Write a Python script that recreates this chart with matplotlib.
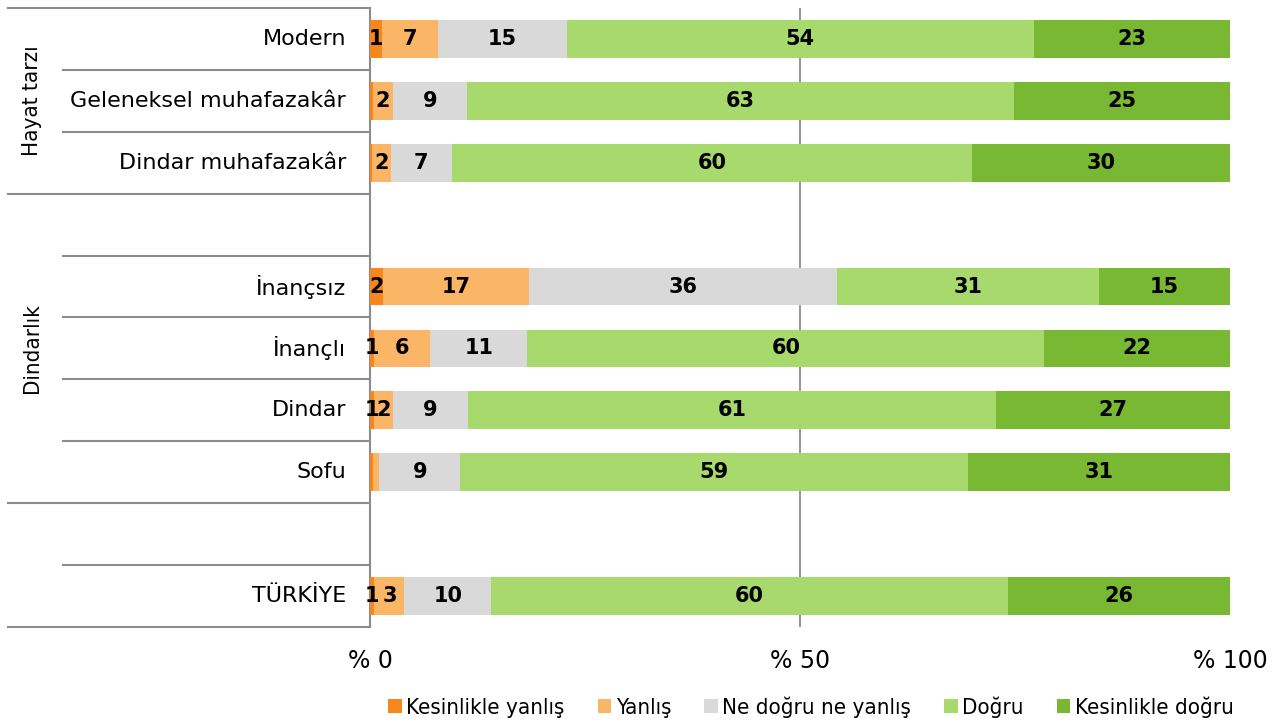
import matplotlib
matplotlib.use("Agg")
import matplotlib.pyplot as plt
from matplotlib.patches import Patch
from matplotlib.font_manager import FontProperties

plt.rcParams["font.family"] = ["DejaVu Sans"]

# ---------- data --------------------------------------------------------------
categories = ["Modern", "Geleneksel muhafazakâr", "Dindar muhafazakâr", "",
              "İnançsız", "İnançlı", "Dindar", "Sofu", "", "TÜRKİYE"]
series_names = ["Kesinlikle yanlış", "Yanlış", "Ne doğru ne yanlış", "Doğru",
                "Kesinlikle doğru"]

kesinlikle_yanlis = [1.4, 0.3, 0.2, None, 1.5, 0.5, 0.5, 0.3, None, 0.5]
yanlis            = [6.5, 2.4, 2.2, None, 17.0, 6.5, 2.2, 0.8, None, 3.5]
ne_dogru          = [15.0, 8.6, 7.1, None, 35.8, 11.3, 8.7, 9.4, None, 10.1]
dogru             = [54.3, 63.6, 60.5, None, 30.5, 60.1, 61.4, 59.0, None, 60.1]
kesinlikle_dogru  = [22.8, 25.1, 30.0, None, 15.2, 21.6, 27.2, 30.5, None, 25.8]

# printed data labels (None = no label shown)
lab_kes_yanlis = ["1", None, None, None, "2", "1", "1", None, None, "1"]
lab_yanlis     = ["7", "2", "2", None, "17", "6", "2", None, None, "3"]
lab_ne         = ["15", "9", "7", None, "36", "11", "9", "9", None, "10"]
lab_dogru      = ["54", "63", "60", None, "31", "60", "61", "59", None, "60"]
lab_kes_dogru  = ["23", "25", "30", None, "15", "22", "27", "31", None, "26"]

groups = [("Hayat tarzı", 0, 2), ("Dindarlık", 3, 7)]
x_ticks = [0, 50, 100]
x_ticklabels = ["% 0", "% 50", "% 100"]

COLORS = ["#F7861C", "#FAB567", "#D9D9D9", "#A8D96C", "#78B833"]
GRID = "#8C8C8C"
COND = FontProperties(family="DejaVu Sans", stretch="condensed", size=16)

# ---------- figure ------------------------------------------------------------
fig = plt.figure(figsize=(12.87, 7.22), dpi=100)
ax = fig.add_axes([370 / 1287, 1 - 627 / 722, 860 / 1287, 619 / 722])

series = [kesinlikle_yanlis, yanlis, ne_dogru, dogru, kesinlikle_dogru]
labels = [lab_kes_yanlis, lab_yanlis, lab_ne, lab_dogru, lab_kes_dogru]

left = [0.0] * len(categories)
for vals, labs, color in zip(series, labels, COLORS):
    for i, v in enumerate(vals):
        if v is None:
            continue
        ax.barh(i, v, left=left[i], height=0.61, color=color, zorder=3)
        if labs[i] is not None:
            ax.text(left[i] + v / 2, i, labs[i], ha="center", va="center",
                    fontsize=15, fontweight="bold", color="black", zorder=5)
        left[i] += v

ax.set_xlim(0, 100)
ax.set_ylim(len(categories) - 0.5, -0.5)
ax.axvline(50, color=GRID, lw=1.3, zorder=1)

for s in ["top", "right", "bottom"]:
    ax.spines[s].set_visible(False)
ax.spines["left"].set_color(GRID)
ax.spines["left"].set_linewidth(1.5)

ax.set_yticks([])
ax.set_xticks(x_ticks)
ax.set_xticklabels(x_ticklabels, fontsize=17)
ax.tick_params(axis="x", length=0, pad=16)

# category labels
ytf = ax.get_yaxis_transform()
for i, c in enumerate(categories):
    if c:
        ax.text(-0.028, i, c, transform=ytf, ha="right", va="center",
                fontsize=16)

# separator lines on the left
full = [-0.5, 2.5, 7.5, 9.5]
for b in [k - 0.5 for k in range(len(categories) + 1)]:
    x0 = -0.421 if b in full else -0.357
    ax.plot([x0, 0], [b, b], transform=ytf, color=GRID, lw=1.5,
            clip_on=False, zorder=0)

# group labels
for name, a, b in groups:
    ax.text(-0.393, (a + b) / 2, name, transform=ytf, rotation=90,
            ha="center", va="center", fontproperties=COND)

# legend
handles = [Patch(facecolor=c, edgecolor="none", label=n)
           for c, n in zip(COLORS, series_names)]
fig.legend(handles=handles, loc="center", bbox_to_anchor=(811 / 1287, 1 - 707 / 722),
           ncol=5, frameon=False, handlelength=0.6, handleheight=0.6,
           handletextpad=0.2, columnspacing=1.5, prop=COND)

fig.savefig("out.png", dpi=100)
